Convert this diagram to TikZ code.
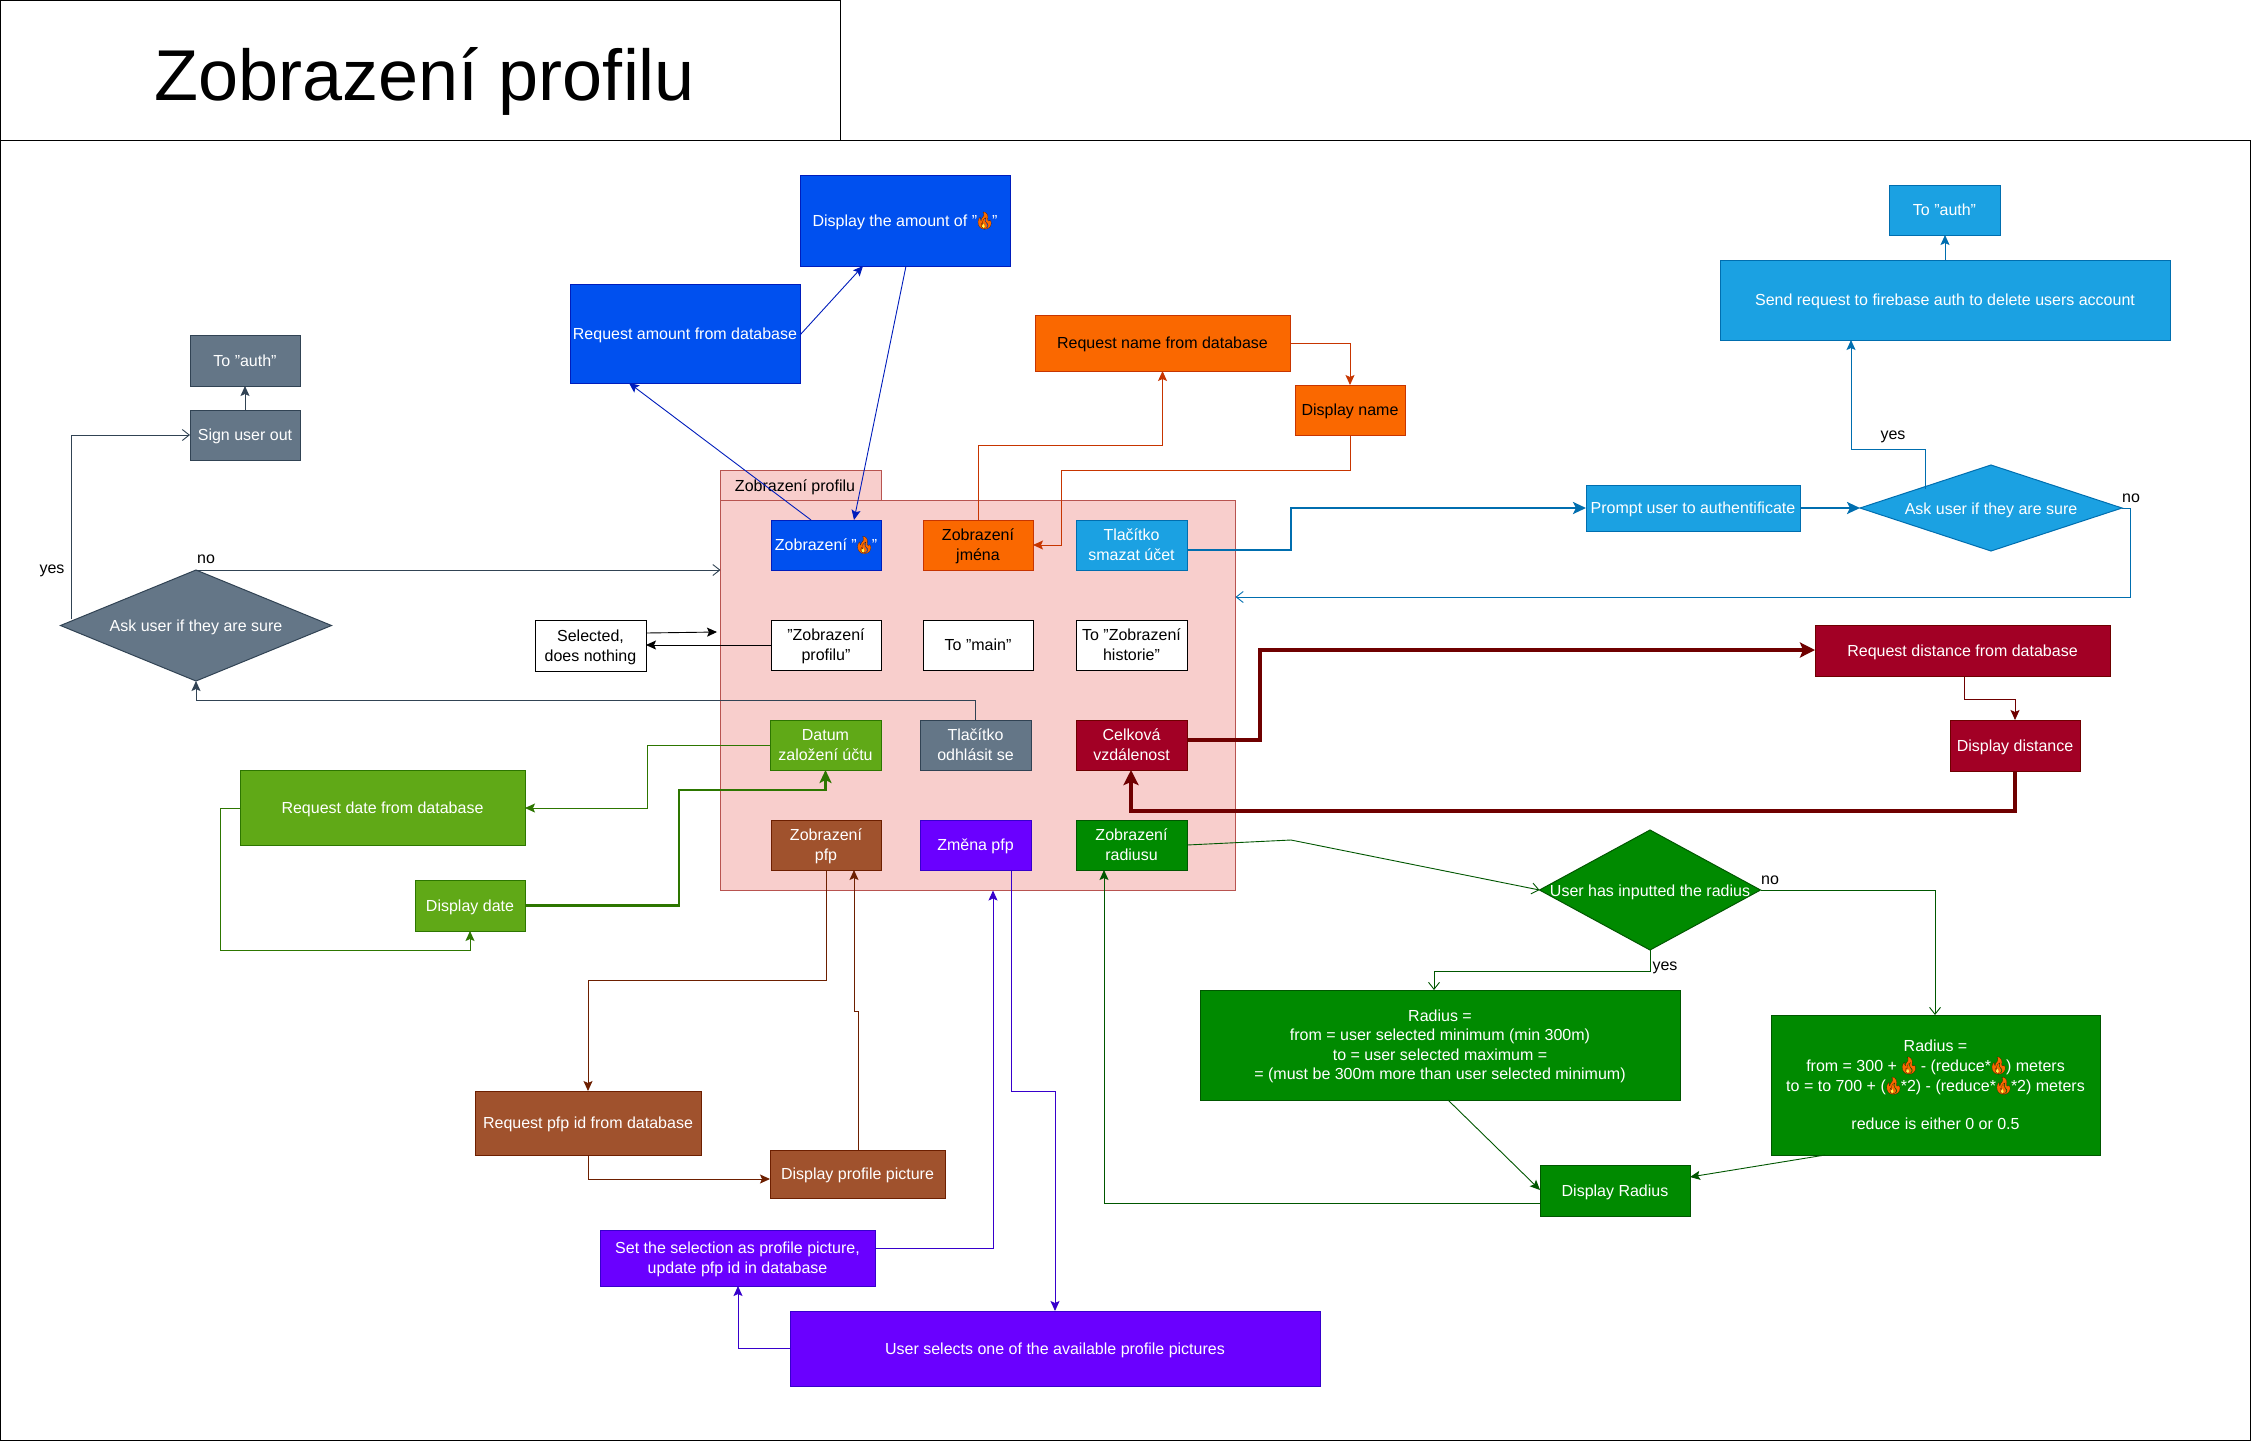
\documentclass[tikz,border=0pt]{standalone}
\usepackage{fontspec}
\setmainfont{Liberation Sans}
\newfontfamily\emob[FakeBold=0.5]{Noto Emoji}
\usetikzlibrary{arrows.meta,shapes.geometric}
\definecolor{cblue}{HTML}{0050EF}\definecolor{sblue}{HTML}{001DBC}
\definecolor{corange}{HTML}{FA6800}\definecolor{sorange}{HTML}{C73500}
\definecolor{ccyan}{HTML}{1BA1E2}\definecolor{scyan}{HTML}{006EAF}
\definecolor{clime}{HTML}{60A917}\definecolor{slime}{HTML}{2D7600}
\definecolor{cslate}{HTML}{647687}\definecolor{sslate}{HTML}{314354}
\definecolor{ccrim}{HTML}{A20025}\definecolor{scrim}{HTML}{6F0000}
\definecolor{cgreen}{HTML}{008A00}\definecolor{sgreen}{HTML}{005700}
\definecolor{cbrown}{HTML}{A0522D}\definecolor{sbrown}{HTML}{6D1F00}
\definecolor{cindigo}{HTML}{6A00FF}\definecolor{sindigo}{HTML}{3700CC}
\definecolor{cpink}{HTML}{F8CECC}\definecolor{spink}{HTML}{B85450}
\newcommand\blob{\rlap{\tikz[baseline=0pt,x=1pt,y=1pt]{\path[use as bounding box] (0,0) rectangle (15,0);\fill[corange] (7.4,-2.3) .. controls (3.4,-2.3) and (3.4,2) .. (5.5,4.5) .. controls (6,6) and (7,8) .. (9.2,9.2) -- (8.6,6.1) -- (9.7,3.7) -- (11.2,1) .. controls (11.2,-1.2) and (9.5,-2.3) .. (7.4,-2.3) -- cycle;\fill[yellow!70!white] (7.3,-1.8) .. controls (5.3,-1.8) and (5.3,1.2) .. (7.3,3.2) .. controls (9.1,1.2) and (9.1,-1.8) .. (7.3,-1.8) -- cycle;}}}
\newcommand\fire{\makebox[15pt]{\blob{\color{corange}\special{pdf:code 0 0 0 RG}\fontsize{17}{17}\emob\hspace*{-2.3pt}🔥\hspace*{-2.3pt}}}}
\newcommand\bx[7]{\pgfmathsetmacro\bw{#4-#2}\pgfmathsetmacro\bh{#5-#3}%
  \node[#6,minimum width=\bw pt,minimum height=\bh pt] (#1) at ({(#2+#4)/2},{(#3+#5)/2}) {\raisebox{-6pt}[0pt][0pt]{\begin{tabular}{@{}c@{}}#7\end{tabular}}};}
\newcommand\dtext[1]{\raisebox{-6pt}[0pt][0pt]{\makebox[0pt]{#1}}}
\tikzset{
  base/.style={draw,rectangle,line width=1pt,inner sep=0pt,outer sep=0pt,
    font=\fontsize{16}{20}\selectfont},
  blue/.style={base,fill=cblue,draw=sblue,text=white},
  orangeb/.style={base,fill=corange,draw=sorange,text=black},
  cyanb/.style={base,fill=ccyan,draw=scyan,text=white},
  limeb/.style={base,fill=clime,draw=slime,text=white},
  slateb/.style={base,fill=cslate,draw=sslate,text=white},
  crimb/.style={base,fill=ccrim,draw=scrim,text=white},
  greenb/.style={base,fill=cgreen,draw=sgreen,text=white},
  brownb/.style={base,fill=cbrown,draw=sbrown,text=white},
  indigob/.style={base,fill=cindigo,draw=sindigo,text=white},
  plainb/.style={base,fill=white,draw=black,text=black},
  dia/.style={diamond,line width=1pt,inner sep=0pt,outer sep=0pt,text=white,font=\fontsize{16}{20}\selectfont},
  lab/.style={inner sep=0pt,font=\fontsize{16}{20}\selectfont,text=black},
  e/.style={line width=0.9pt,-{Stealth[length=10pt,width=9pt,inset=2pt]}},
  o/.style={line width=0.9pt,-{Straight Barb[length=7pt,width=11pt]}},
  t/.style={line width=2.67pt,-{Stealth[length=13pt,width=12pt,inset=3pt]}},
  tt/.style={line width=4pt,-{Stealth[length=15pt,width=15pt,inset=3pt]}}
}
\begin{document}
\begin{tikzpicture}[x=1pt,y=-1pt]
\useasboundingbox (0,0) rectangle (2251,1441);
\fill[white] (0,0) rectangle (2251,1441);
\bx{frame}{0.6}{140}{2250.4}{1440.4}{base,draw=black,fill=white}{}
\bx{titlebox}{0.6}{0.6}{840}{140}{base,draw=black,fill=white}{}
\node[inner sep=0pt,font=\fontsize{72}{80}\selectfont] (title) at (425,81) {Zobrazení profilu};
% container
\bx{tab}{720.5}{470}{881}{500.5}{base,fill=cpink,draw=spink}{}
\node[lab] (tabt) at (795,487) {Zobrazení profilu};
\bx{cont}{720.5}{500.5}{1235.5}{890.5}{base,fill=cpink,draw=spink}{}
% grid
\bx{fireb}{771}{520}{881}{570}{blue}{Zobrazení "\fire"}
\bx{jmena}{923}{520}{1033}{570}{orangeb}{Zobrazení\\jména}
\bx{smazat}{1076}{520}{1187}{570}{cyanb}{Tlačítko\\smazat účet}
\bx{prof}{771}{620}{881}{670}{plainb}{"Zobrazení\\profilu"}
\bx{tomain}{923}{620}{1033}{670}{plainb}{To "main"}
\bx{tohist}{1076}{620}{1187}{670}{plainb}{To "Zobrazení\\historie"}
\bx{datum}{770}{720}{881}{770}{limeb}{Datum\\založení účtu}
\bx{odhl}{920}{720}{1031}{770}{slateb}{Tlačítko\\odhlásit se}
\bx{celk}{1076}{720}{1187}{770}{crimb}{Celková\\vzdálenost}
\bx{pfp}{771}{820}{881}{870}{brownb}{Zobrazení\\pfp}
\bx{zmena}{920}{820}{1031}{870}{indigob}{Změna pfp}
\bx{radz}{1076}{820}{1187}{870}{greenb}{Zobrazení\\radiusu}
% top
\bx{dispamt}{800}{175}{1010}{266}{blue}{Display the amount of "\fire"}
\bx{reqamt}{570}{284}{800}{383}{blue}{Request amount from database}
\bx{reqname}{1035}{315}{1290}{371}{orangeb}{Request name from database}
\bx{dispname}{1295}{385}{1405}{435}{orangeb}{Display name}
\bx{authr}{1889}{185}{2000}{235}{cyanb}{To "auth"}
\bx{send}{1720}{260}{2170}{340}{cyanb}{Send request to firebase auth to delete users account}
\bx{prompt}{1586}{485}{1800}{531}{cyanb}{Prompt user to authentificate}
\node[dia,aspect=3.05,draw=scyan,fill=ccyan,minimum width=262pt,minimum height=86pt] (askr) at (1991,508) {\dtext{Ask user if they are sure}};
\bx{reqdist}{1815}{625}{2110}{676}{crimb}{Request distance from database}
\bx{dispdist}{1950}{720}{2080}{771}{crimb}{Display distance}
% right bottom
\node[dia,aspect=1.84,draw=sgreen,fill=cgreen,minimum width=221pt,minimum height=120pt] (askrad) at (1650,890) {\dtext{User has inputted the radius}};
{\renewcommand\arraystretch{0.965}
\bx{radl}{1200}{990}{1680}{1100}{greenb}{Radius =\\from = user selected minimum (min 300m)\\to = user selected maximum =\\= (must be 300m more than user selected minimum)}
\bx{radr}{1771}{1015}{2100}{1155}{greenb}{Radius =\\from = 300 + \fire{} - (reduce*\fire) meters\\to = to 700 + (\fire*2) - (reduce*\fire*2) meters\\[19pt]reduce is either 0 or 0.5}
}
\bx{disprad}{1540}{1165}{1690}{1216}{greenb}{Display Radius}
% left
\bx{authl}{190}{335}{300}{386}{slateb}{To "auth"}
\bx{signout}{190}{410}{300}{460}{slateb}{Sign user out}
\node[dia,aspect=2.44,draw=sslate,fill=cslate,minimum width=271pt,minimum height=111pt] (askl) at (196,625.5) {\dtext{Ask user if they are sure}};
\bx{selected}{535}{620}{646}{671}{plainb}{Selected,\\does nothing}
\bx{reqdate}{240}{770}{525}{845}{limeb}{Request date from database}
\bx{dispdate}{415}{880}{525}{931}{limeb}{Display date}
\bx{reqpfp}{475}{1091}{701}{1155}{brownb}{Request pfp id from database}
\bx{disppic}{770}{1150}{945}{1198}{brownb}{Display profile picture}
\bx{setsel}{600}{1230}{875}{1286}{indigob}{Set the selection as profile picture,\\update pfp id in database}
\bx{usersel}{790}{1311}{1320}{1386}{indigob}{User selects one of the available profile pictures}
% labels
\node[lab] (nol) at (206,559) {no};
\node[lab] (yesl) at (52,571) {yes};
\node[lab] (yesr) at (1893,437) {yes};
\node[lab] (nor) at (2131,498) {no};
\node[lab] (norad) at (1770,880) {no};
\node[lab] (yesrad) at (1665,968) {yes};
% blue
\draw[e,draw=sblue] (fireb.north -| 811,0) -- (reqamt.south -| 629,0);
\draw[e,draw=sblue] (reqamt.east |- 0,335) -- (dispamt.south -| 863,0);
\draw[e,draw=sblue] (dispamt.south -| 906,0) -- (fireb.north -| 854,0);
% orange
\draw[e,draw=sorange] (jmena.north) -- ++(0,-75) -| (reqname.south);
\draw[e,draw=sorange] (reqname.east |- 0,343) -| (dispname.north);
\draw[e,draw=sorange] (dispname.south) -- ++(0,35) -| ++(-289,75) -- (jmena.east);
% cyan
\draw[t,draw=scyan] (smazat.east |- 0,550) -| (1291,508) -- (prompt.west |- 0,508);
\draw[t,draw=scyan] (prompt.east |- 0,508) -- (askr.west);
\draw[e,draw=scyan] (1925,489) -- (1925,449) -| (send.south -| 1851,0);
\draw[e,draw=scyan] (send.north) -- (authr.south -| send.north);
\draw[o,draw=scyan] (askr.east) -| (2130,597) -- (cont.east |- 0,597);
% slate
\draw[e,draw=sslate] (odhl.north) -- ++(0,-20) -| (askl.south);
\draw[o,draw=sslate] (askl.north) -- (cont.west |- askl.north);
\draw[o,draw=sslate] (71,619) |- (signout.west);
\draw[e,draw=sslate] (signout.north) -- (authl.south);
% black
\draw[e,draw=black] (selected.east |- 0,633) -- (717,632);
\draw[e,draw=black] (prof.west) -- (selected.east |- prof.west);
% lime
\draw[e,draw=slime] (datum.west) -| (647,808) -- (reqdate.east |- 0,808);
\draw[e,draw=slime] (reqdate.west |- 0,808) -| (220,950) -| (dispdate.south);
\draw[t,draw=slime] (dispdate.east) -| (679,790) -| (datum.south);
% brown
\draw[e,draw=sbrown] (pfp.south) |- (588,980) -- (reqpfp.north -| 588,0);
\draw[e,draw=sbrown] (reqpfp.south -| 588,0) |- (disppic.west |- 0,1179);
\draw[e,draw=sbrown] (disppic.north -| 858,0) |- (854,1011) -- (pfp.south -| 854,0);
% indigo
\draw[e,draw=sindigo] (zmena.south -| 1011,0) |- (1055,1091) -- (usersel.north -| 1055,0);
\draw[e,draw=sindigo] (usersel.west) -| (setsel.south -| 738,0);
\draw[e,draw=sindigo] (setsel.east |- 0,1248) -| (cont.south -| 993,0);
% green
\draw[o,draw=sgreen] (radz.east) -- (1291,840) -- (askrad.west);
\draw[o,draw=sgreen] (askrad.south) |- (1434,971) -- (radl.north -| 1434,0);
\draw[o,draw=sgreen] (askrad.east) -| (radr.north -| 1935,0);
\draw[e,draw=sgreen] (radl.south -| 1448,0) -- (disprad.west |- 0,1190);
\draw[e,draw=sgreen] (radr.south -| 1825,0) -- (disprad.east |- 0,1177);
\draw[e,draw=sgreen] (disprad.west |- 0,1203) -| (radz.south -| 1104,0);
% crimson
\draw[tt,draw=scrim] (celk.east |- 0,740) -| (1260,650) -- (reqdist.west |- 0,650);
\draw[e,draw=scrim] (reqdist.south -| 1964,0) |- (2015,699) -- (dispdist.north -| 2015,0);
\draw[tt,draw=scrim] (dispdist.south -| 2015,0) |- (1131,811) -- (celk.south -| 1131,0);
\end{tikzpicture}
\end{document}
